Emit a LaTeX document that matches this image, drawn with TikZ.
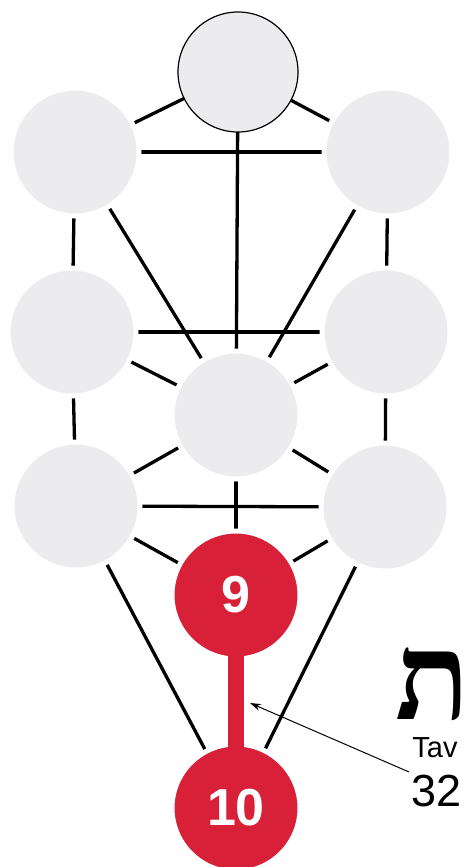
\documentclass[tikz,border=0pt]{standalone}
\usepackage{fontspec}
\setmainfont{Liberation Sans}
\newfontfamily\hebrewfont[Script=Hebrew]{Liberation Serif}
\TeXXeTstate=1
\usetikzlibrary{arrows.meta, backgrounds}

\definecolor{sefgray}{RGB}{236,236,238}
\definecolor{sefred}{RGB}{216,32,56}

\tikzset{
  sefira/.style={circle, fill=sefgray, draw=white, line width=5pt, minimum size=128pt, inner sep=0pt},
  lit/.style={sefira, fill=sefred, text=white, font=\fontsize{52}{52}\selectfont\bfseries},
  channel/.style={line width=3.3pt},
  pillar/.style={line width=16pt, sefred},
}

\begin{document}
\begin{tikzpicture}[x=1pt, y=-1pt]
    \useasboundingbox (0,0) rectangle (470,867);

    % Sefirot
    \node[sefira, draw=black, line width=1.2pt, minimum size=120pt] (keter) at (238,72) {};
    \node[sefira] (binah) at (75,152) {};
    \node[sefira] (chokmah) at (388,152) {};
    \node[sefira] (gevurah) at (72,332) {};
    \node[sefira] (chesed) at (386,332) {};
    \node[sefira] (tiferet) at (236,415) {};
    \node[sefira] (hod) at (76,506) {};
    \node[sefira] (netzach) at (385,507) {};
    \node[lit] (yesod) at (236,595) {9};
    \node[lit] (malkuth) at (236,808) {10};

    % Paths
    \begin{pgfonlayer}{background}
        \foreach \a/\b in {keter/binah, keter/chokmah, keter/tiferet, binah/chokmah,
                           binah/gevurah, binah/tiferet, chokmah/chesed, chokmah/tiferet,
                           gevurah/chesed, gevurah/tiferet, chesed/tiferet, gevurah/hod,
                           chesed/netzach, hod/tiferet, netzach/tiferet, hod/netzach,
                           tiferet/yesod, hod/yesod, netzach/yesod, hod/malkuth, netzach/malkuth}
            \draw[channel] (\a.center) -- (\b.center);
    \end{pgfonlayer}
    \draw[pillar] ([yshift=8pt]yesod.south) -- ([yshift=-8pt]malkuth.north);

    % Letter of the path
    \node[font=\hebrewfont\fontsize{122}{122}\selectfont\bfseries, inner sep=0pt, text depth=0pt] (letter) at (433,684) {\beginR ת\endR};
    \node[font=\fontsize{29}{29}\selectfont, inner sep=1pt] (name) at (435,748) {Tav};
    \node[font=\fontsize{45}{45}\selectfont, inner sep=3pt] (num) at (437,791) {32};
    \coordinate (tip) at (250,703);

    % Arrow
    \draw[-{Stealth[length=11pt, width=7pt]}, line width=1pt] (num.north west) -- (tip);
\end{tikzpicture}
\end{document}
